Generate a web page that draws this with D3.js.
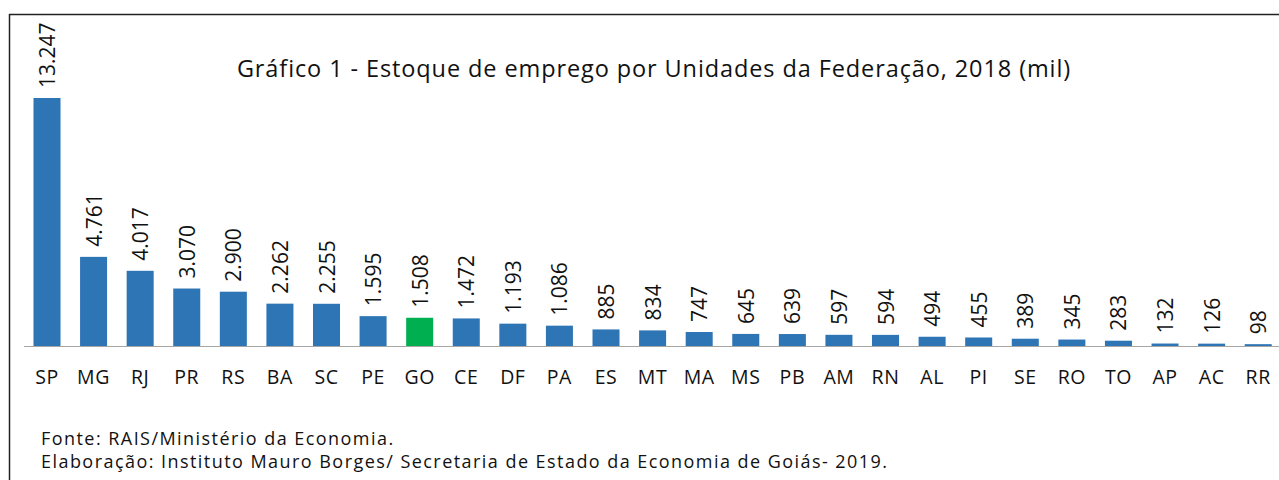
<!DOCTYPE html>
<html>
<head>
<meta charset="utf-8">
<script src="https://cdn.jsdelivr.net/npm/d3@7"></script>
<style>
  body { margin: 0; background: #fff; }
  svg { display: block; font-family: "Open Sans", "Noto Sans", sans-serif; }
</style>
</head>
<body>
<div id="chart"></div>
<script>
const states = ["SP","MG","RJ","PR","RS","BA","SC","PE","GO","CE","DF","PA","ES","MT","MA","MS","PB","AM","RN","AL","PI","SE","RO","TO","AP","AC","RR"];
const jobs = [13247,4761,4017,3070,2900,2262,2255,1595,1508,1472,1193,1086,885,834,747,645,639,597,594,494,455,389,345,283,132,126,98];
const highlight = "GO";
const title = "Gráfico 1 - Estoque de emprego por Unidades da Federação, 2018 (mil)";
const notes = ["Fonte: RAIS/Ministério da Economia.", "Elaboração: Instituto Mauro Borges/ Secretaria de Estado da Economia de Goiás- 2019."];

const width = 1279, height = 480;
const baseY = 346;

const svg = d3.select("#chart").append("svg")
  .attr("width", width)
  .attr("height", height);

// frame: top and left lines
svg.append("line")
  .attr("x1", 9).attr("x2", width).attr("y1", 14.5).attr("y2", 14.5)
  .attr("stroke", "#222").attr("stroke-width", 1.5);
svg.append("line")
  .attr("x1", 9.5).attr("x2", 9.5).attr("y1", 14).attr("y2", height)
  .attr("stroke", "#222").attr("stroke-width", 1.5);

const x = d3.scaleBand()
  .domain(states)
  .range([23.7, 1281.5])
  .paddingInner(0.42)
  .paddingOuter(0.21);

const y = d3.scaleLinear()
  .domain([0, 13247])
  .range([baseY, 98]);

// bars
svg.append("g")
  .selectAll("rect")
  .data(states)
  .join("rect")
  .attr("x", (d) => x(d))
  .attr("width", x.bandwidth())
  .attr("y", (d, i) => y(jobs[i]))
  .attr("height", (d, i) => baseY - y(jobs[i]))
  .attr("fill", (d) => d === highlight ? "#00B050" : "#2E75B6");

// axis line
svg.append("line")
  .attr("x1", 24).attr("x2", width)
  .attr("y1", baseY + 0.5).attr("y2", baseY + 0.5)
  .attr("stroke", "#a6a6a6").attr("stroke-width", 1.2);

// category labels
svg.append("g")
  .selectAll("text")
  .data(states)
  .join("text")
  .attr("x", (d) => x(d) + x.bandwidth() / 2)
  .attr("y", 384)
  .attr("text-anchor", "middle")
  .attr("font-size", 19.5)
  .attr("letter-spacing", 0.6)
  .attr("fill", "#111")
  .text((d) => d);

// value labels, rotated
const fmt = d3.formatLocale({ decimal: ",", thousands: ".", grouping: [3], currency: ["R$", ""] }).format(",d");
svg.append("g")
  .selectAll("text")
  .data(states)
  .join("text")
  .attr("transform", (d, i) => `translate(${x(d) + x.bandwidth() / 2 + 8},${y(jobs[i]) - 10}) rotate(-90)`)
  .attr("font-size", 21)
  .attr("fill", "#111")
  .text((d, i) => fmt(jobs[i]));

// title
svg.append("text")
  .attr("x", 654)
  .attr("y", 77)
  .attr("text-anchor", "middle")
  .attr("font-size", 23.5)
  .attr("letter-spacing", 0.9)
  .attr("fill", "#111")
  .text(title);

// footnotes
svg.append("g")
  .selectAll("text")
  .data(notes)
  .join("text")
  .attr("x", 41)
  .attr("y", (d, i) => 445 + i * 22.5)
  .attr("font-size", 18)
  .attr("letter-spacing", 1.45)
  .attr("fill", "#111")
  .text((d) => d);
</script>
</body>
</html>
